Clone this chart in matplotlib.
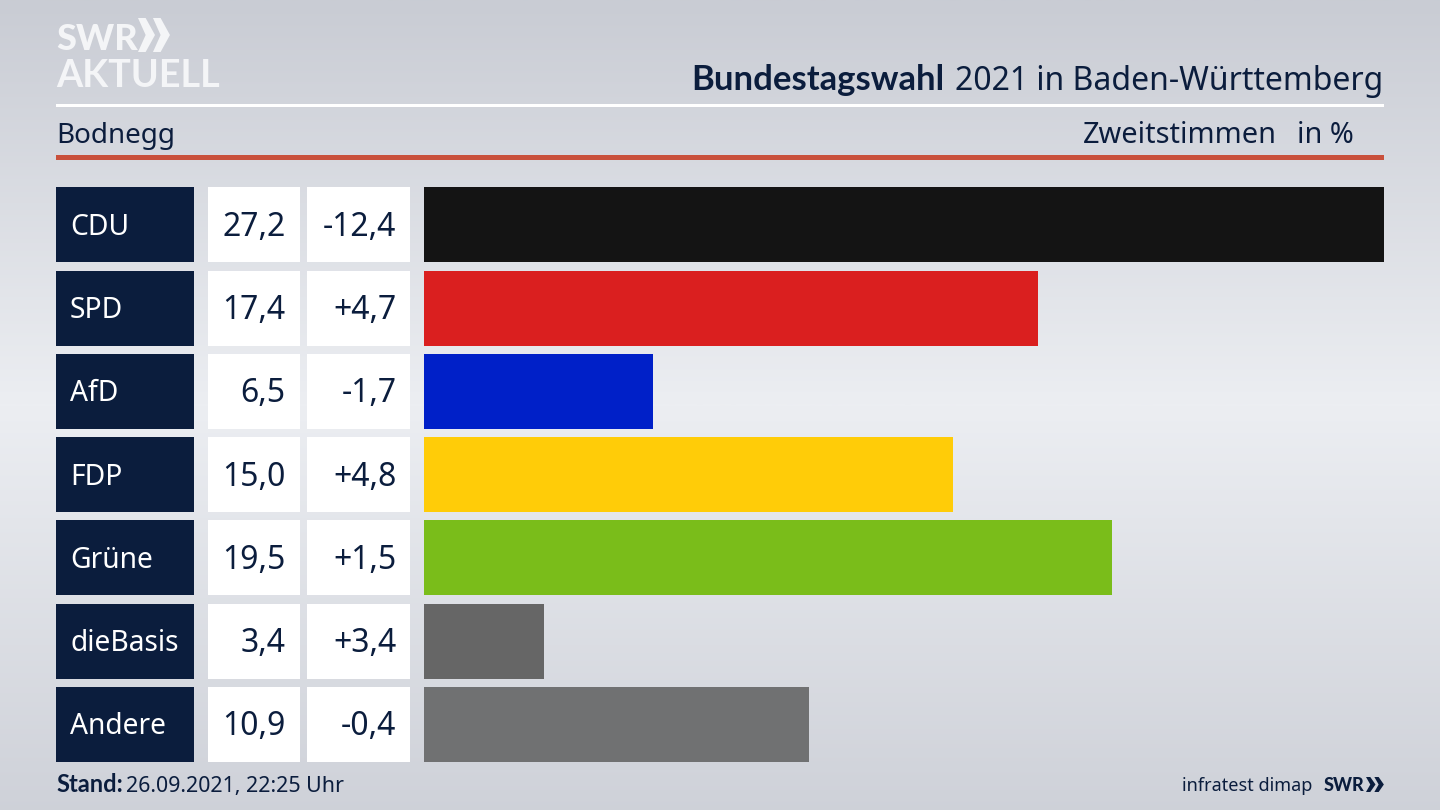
import numpy as np
import matplotlib
matplotlib.use("Agg")
import matplotlib.pyplot as plt

parties = ["CDU", "SPD", "AfD", "FDP", "Grüne", "dieBasis", "Andere"]
shares = [27.2, 17.4, 6.5, 15.0, 19.5, 3.4, 10.9]
changes = ["-12,4", "+4,7", "-1,7", "+4,8", "+1,5", "+3,4", "-0,4"]
colors = ["#141414", "#da1f1f", "#0020c8", "#ffcc08", "#7abd1a", "#666666", "#707172"]

navy = "#0b1d3d"
font = "Noto Sans"
bold = "Lato"

fig = plt.figure(figsize=(14.4, 8.1), dpi=100)

# background, lightest in the middle
bg = fig.add_axes([0, 0, 1, 1], zorder=0)
stops = [0.0, 0.5, 1.0]
grey = [0.80, 0.925, 0.82]
ramp = np.interp(np.linspace(0, 1, 300), stops, grey)[:, None]
cm = matplotlib.colors.LinearSegmentedColormap.from_list("bg", ["#c9ccd4", "#eceef2"])
bg.imshow(ramp, aspect="auto", cmap=cm, vmin=0.8, vmax=0.925, extent=[0, 1440, 810, 0])
bg.set_xlim(0, 1440)
bg.set_ylim(810, 0)
bg.axis("off")


def chevrons(x, y, w, h, color):
    # the two arrows of the SWR logo, w is the width of one arrow
    for dx in (0, w * 0.88):
        px = np.array([0, 0.45, 1, 0.45, 0, 0.45]) * w
        py = np.array([0, 0, 0.5, 1, 1, 0.5]) * h
        bg.fill(px + x + dx, py + y, color=color, lw=0)


# rules
bg.fill_between([56, 1384], 104, 107, color="white", lw=0)
bg.fill_between([56, 1384], 155, 160, color="#c9503c", lw=0)

# header
bg.text(56, 50, "SWR", color="#f4f5f7", fontsize=26, fontweight="black", family=bold, va="baseline")
chevrons(138, 18, 17, 34, "#f4f5f7")
bg.text(56, 87, "AKTUELL", color="#f4f5f7", fontsize=27.2, fontweight="bold", family=bold, va="baseline")
bg.text(944, 90, "Bundestagswahl", color=navy, fontsize=24.9, fontweight="bold", family=bold, va="baseline", ha="right")
bg.text(1383, 90, "2021 in Baden-Württemberg", color=navy, fontsize=23, family=font, va="baseline", ha="right")
bg.text(56, 143, "Bodnegg", color=navy, fontsize=20, family=font, va="baseline")
bg.text(1277, 143, "Zweitstimmen", color=navy, fontsize=20.8, family=font, va="baseline", ha="right")
bg.text(1354, 143, "in %", color=navy, fontsize=20.8, family=font, va="baseline", ha="right")

# table cells and labels
tops = 187.3 + 83.25 * np.arange(len(parties))
h = 75
for i, top in enumerate(tops):
    mid = top + h / 2
    bg.fill_between([56, 194], top, top + h, color=navy, lw=0)
    bg.fill_between([208, 300], top, top + h, color="white", lw=0)
    bg.fill_between([307, 410], top, top + h, color="white", lw=0)
    bg.text(70, mid + 10, parties[i], color="white", fontsize=20.3, family=font, va="baseline")
    bg.text(285.5, mid + 11, f"{shares[i]:.1f}".replace(".", ","), color=navy, fontsize=23, family=font, va="baseline", ha="right")
    bg.text(396.5, mid + 11, changes[i], color=navy, fontsize=23, family=font, va="baseline", ha="right")

# bars
ax = fig.add_axes([424 / 1440, 0, (1384 - 424) / 1440, 1], zorder=1)
ax.patch.set_alpha(0)
ax.barh(tops + h / 2, shares, height=h, color=colors)
ax.set_xlim(0, 27.2)
ax.set_ylim(810, 0)
ax.axis("off")

# footer
bg.text(56, 792, "Stand:", color=navy, fontsize=17, fontweight="bold", family=bold, va="baseline")
bg.text(126, 792, "26.09.2021, 22:25 Uhr", color=navy, fontsize=15.4, family=font, va="baseline")
bg.text(1312, 791, "infratest dimap", color=navy, fontsize=13, family=font, va="baseline", ha="right")
bg.text(1324, 791, "SWR", color=navy, fontsize=13, fontweight="black", family=bold, va="baseline")
chevrons(1366, 777, 9.5, 15, navy)

fig.savefig("out.png", dpi=100)
